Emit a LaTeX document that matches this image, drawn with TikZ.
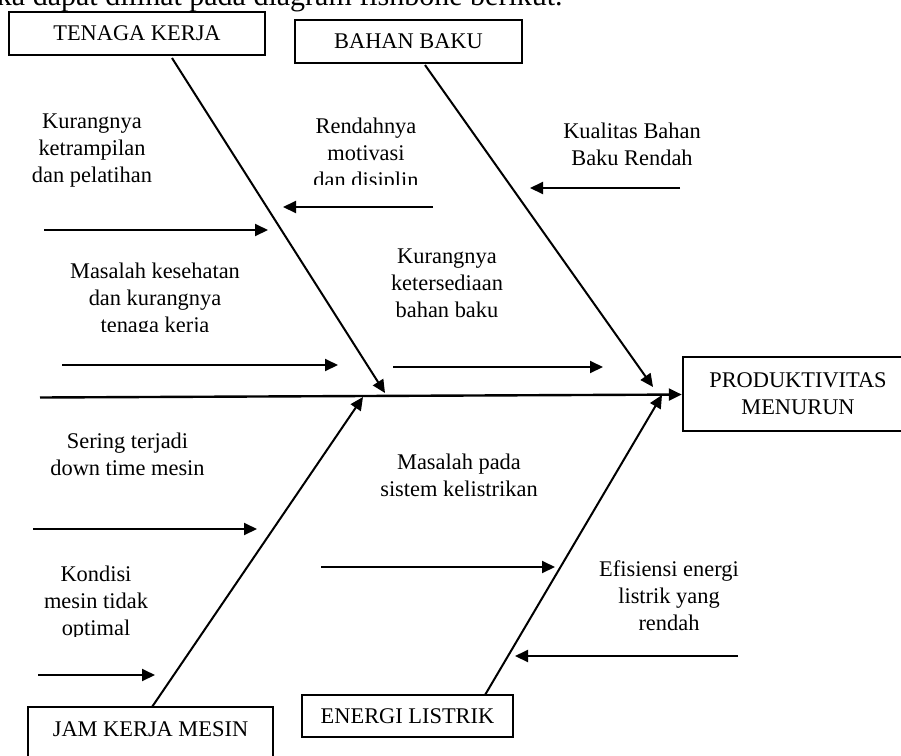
\documentclass[tikz,border=0pt]{standalone}
\usepackage{fontspec}
\setmainfont{Liberation Serif}
\usetikzlibrary{arrows.meta}
\begin{document}
\begin{tikzpicture}[x=0.5pt,y=-0.5pt,
  every node/.style={font=\fontsize{11.2pt}{13.5pt}\selectfont,inner sep=0pt},
  cat/.style={draw,line width=1.2pt,text height=7.4pt,text depth=0pt},
  cause/.style={align=center,anchor=base},
  bone/.style={line width=1pt,-{Triangle[length=6.5pt,width=6pt]}}]
  \useasboundingbox (0,0) rectangle (901,756);
  \node[font=\fontsize{15pt}{18pt}\selectfont,anchor=base east] (intro) at (563,5) {ka dapat dilihat pada diagram fishbone berikut.};

  \node[cat,minimum width=128pt,minimum height=21.5pt] (tk) at (137,33.5) {TENAGA KERJA};
  \node[cat,minimum width=113.5pt,minimum height=21.5pt] (bb) at (408.5,41.5) {BAHAN BAKU};
  \node[cat,minimum width=122.5pt,minimum height=32pt,text depth=9.5pt] (jk) at (150.5,739) {JAM KERJA MESIN};
  \node[cat,minimum width=105.5pt,minimum height=21pt] (el) at (407.5,716) {ENERGI LISTRIK};
  \node[draw,line width=1.2pt,align=center,minimum width=115pt,minimum height=37pt] (pm) at (798,394) {PRODUKTIVITAS\\MENURUN};

  \coordinate (sp) at (40,397.5);
  \draw[bone,line width=1.2pt] (sp) -- (pm);

  \coordinate (tk0) at (172,58);  \coordinate (tk1) at (385,393);
  \coordinate (bb0) at (425,65);  \coordinate (bb1) at (653,387);
  \coordinate (jk0) at (152,707); \coordinate (jk1) at (363,397);
  \coordinate (el0) at (485,695); \coordinate (el1) at (662,395);
  \draw[bone] (tk0) -- (tk1);
  \draw[bone] (bb0) -- (bb1);
  \draw[bone] (jk0) -- (jk1);
  \draw[bone] (el0) -- (el1);

  \foreach \n/\xa/\xb/\y in {1/44/268/230, 2/433/283/207, 3/680/530/188,
                            4/62/338/365, 5/393/603/367, 6/33/257/529,
                            7/38/155/675, 8/321/555/567, 9/738/515/656}{%
    \coordinate (a\n) at (\xa,\y);
    \coordinate (b\n) at (\xb,\y);
    \draw[bone] (a\n) -- (b\n);
  }

  \node[cause] (c1) at (92,182) {Kurangnya\\ketrampilan\\dan pelatihan};
  \begin{scope}
    \clip (290,90) rectangle (450,184);
    \node[cause] (c2) at (366,187) {Rendahnya\\motivasi\\dan disiplin};
  \end{scope}
  \node[cause] (c3) at (632,165) {Kualitas Bahan\\Baku Rendah};
  \begin{scope}
    \clip (50,250) rectangle (270,331);
    \node[cause] (c4) at (155,332) {Masalah kesehatan\\dan kurangnya\\tenaga kerja};
  \end{scope}
  \node[cause] (c5) at (447,317) {Kurangnya\\ketersediaan\\bahan baku};
  \node[cause] (c6) at (127.5,475) {Sering terjadi\\down time mesin};
  \begin{scope}
    \clip (30,555) rectangle (170,636);
    \node[cause] (c7) at (96,635) {Kondisi\\mesin tidak\\optimal};
  \end{scope}
  \node[cause] (c8) at (459,496) {Masalah pada\\sistem kelistrikan};
  \node[cause] (c9) at (669,630) {Efisiensi energi\\listrik yang\\rendah};
\end{tikzpicture}
\end{document}
